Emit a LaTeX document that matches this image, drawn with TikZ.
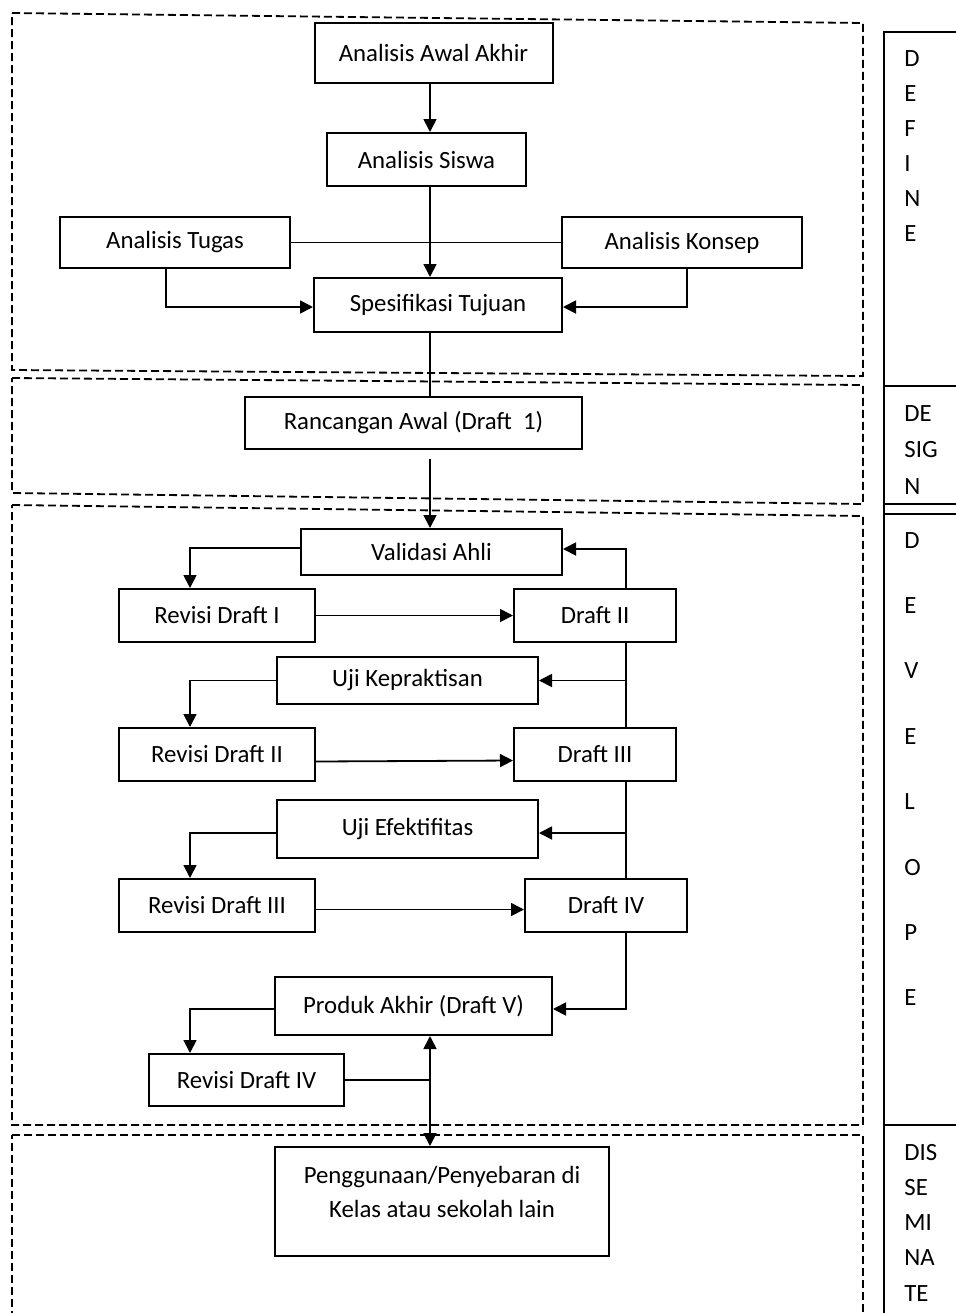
\documentclass[tikz,border=0pt]{standalone}
\usepackage{fontspec}
\setmainfont{Carlito}
\usetikzlibrary{arrows.meta,calc}
\tikzset{
  txt/.style={font=\fontsize{12.4pt}{17pt}\selectfont},
  box/.style={txt, draw, line width=1pt, inner sep=0pt},
  con/.style={line width=0.9pt},
  arr/.style={con, -{Triangle[length=6.5pt,width=6.5pt]}},
  dbl/.style={con, {Triangle[length=6.5pt,width=6.5pt]}-{Triangle[length=6.5pt,width=6.5pt]}},
  dashbox/.style={line width=0.9pt, dash pattern=on 4pt off 2pt},
  stagebox/.style={line width=1pt},
  stage/.style={txt, anchor=base west, inner sep=0pt},
}
\begin{document}
\begin{tikzpicture}[x=0.5pt,y=-0.5pt]
\useasboundingbox (0,0) rectangle (956,1313);

% phase frames (dashed)
\draw[dashbox] (12,13) -- (863,23) -- (863,376) -- (12,370) -- cycle;
\draw[dashbox] (12,378) -- (863,385) -- (863,504) -- (12,493) -- cycle;
\draw[dashbox] (12,505) -- (863,516) -- (863,1125) -- (12,1125) -- cycle;
\draw[dashbox] (12,1135) -- (863,1135) -- (863,1330) -- (12,1330) -- cycle;

% phase labels column
\draw[stagebox] (884,1330) -- (884,32) -- (970,32);
\draw[stagebox] (884,386) -- (970,386);
\draw[stagebox] (884,504) -- (970,504);
\draw[stagebox] (884,514) -- (970,514);
\draw[stagebox] (884,1125) -- (970,1125);
\foreach \t [count=\i] in {D,E,F,I,N,E} \node[stage] (def\i) at (904,{31+35*\i}) {\t};
\foreach \t [count=\i] in {DE,SIG,N} \node[stage] (des\i) at (904,{384.5+36.5*\i}) {\t};
\foreach \t [count=\i] in {D,E,V,E,L,O,P,E} \node[stage] (dev\i) at (904,{482.6+65.4*\i}) {\t};
\foreach \t [count=\i] in {DIS,SE,MI,NA,TE} \node[stage] (dis\i) at (904,{1124.7+35.3*\i}) {\t};

% nodes
\node[box, minimum width=119pt, minimum height=30pt] (aaa) at (433.5,53) {Analisis Awal Akhir};
\node[box, minimum width=99.5pt, minimum height=26.5pt] (as) at (426.5,159.5) {Analisis Siswa};
\node[box, minimum width=115pt, minimum height=25.5pt] (at) at (175,242.5) {Analisis Tugas};
\node[box, minimum width=120pt, minimum height=25.5pt] (ak) at (682,242.5) {Analisis Konsep};
\node[box, minimum width=124pt, minimum height=27pt] (st) at (438,305) {Spesifikasi Tujuan};
\node[box, minimum width=168.5pt, minimum height=26pt] (ra) at (413.5,423) {Rancangan Awal (Draft\ \ 1)};
\node[box, minimum width=130.5pt, minimum height=23pt] (va) at (431.5,552) {Validasi Ahli};
\node[box, minimum width=98pt, minimum height=26.5pt] (r1) at (217,615.5) {Revisi Draft I};
\node[box, minimum width=81pt, minimum height=26.5pt] (d2) at (595,615.5) {Draft II};
\node[box, minimum width=130.5pt, minimum height=23.5pt] (uk) at (407.5,680.5) {Uji Kepraktisan};
\node[box, minimum width=98pt, minimum height=26.5pt] (r2) at (217,754.5) {Revisi Draft II};
\node[box, minimum width=81pt, minimum height=26.5pt] (d3) at (595,754.5) {Draft III};
\node[box, minimum width=130.5pt, minimum height=29pt] (ue) at (407.5,829) {Uji Efektifitas};
\node[box, minimum width=98pt, minimum height=26.5pt] (r3) at (217,905.5) {Revisi Draft III};
\node[box, minimum width=81pt, minimum height=26.5pt] (d4) at (606,905.5) {Draft IV};
\node[box, minimum width=138.5pt, minimum height=29pt] (pa) at (413.5,1006) {Produk Akhir (Draft V)};
\node[box, minimum width=97.5pt, minimum height=26pt] (r4) at (246.5,1080) {Revisi Draft IV};
\node[box, minimum width=167pt, minimum height=54.5pt] (pg) at (442,1201.5) {};
\node[txt, align=center, inner sep=0pt] (pgt) at (442,1192) {Penggunaan/Penyebaran di\\Kelas atau sekolah lain};

% helper coordinates
\coordinate (cx) at (430,0);
\coordinate (lx) at (190,0);
\coordinate (rx) at (626,0);
\coordinate (tx) at (166,0);
\coordinate (kx) at (687,0);
\coordinate (rb) at (430,459);
\coordinate (uep) at ([yshift=-2pt]ue.east);
\coordinate (uew) at ([yshift=-2pt]ue.west);

% connectors
\draw[arr] (aaa.south -| cx) -- (as.north -| cx);
\draw[arr] (as.south -| cx) -- (st.north -| cx);
\draw[con] (at.east) -- (ak.west);
\draw[arr] (at.south -| tx) |- ([yshift=-1pt]st.west);
\draw[arr] (ak.south -| kx) |- ([yshift=-1pt]st.east);
\draw[con] (st.south -| cx) -- (ra.north -| cx);
\draw[arr] (rb) -- (va.north -| cx);
\draw[arr] ([yshift=2pt]va.west) -| (r1.north -| lx);
\draw[arr] (r1.east) -- (d2.west);
\draw[arr] (d2.north -| rx) |- ([yshift=1.5pt]va.east);
\draw[con] (d2.south -| rx) -- (d3.north -| rx);
\draw[arr] (uk.east -| rx) -- (uk.east);
\draw[arr] (uk.west) -| (r2.north -| lx);
\draw[arr] ([yshift=-3.5pt]r2.east) -- ([yshift=-3pt]d3.west);
\draw[con] (d3.south -| rx) -- (d4.north -| rx);
\draw[arr] (uep -| rx) -- (uep);
\draw[arr] (uew) -| (r3.north -| lx);
\draw[arr] ([yshift=-2pt]r3.east) -- ([yshift=-2pt]d4.west);
\draw[arr] (d4.south -| rx) |- ([yshift=-1.5pt]pa.east);
\draw[arr] ([yshift=-1.5pt]pa.west) -| (r4.north -| lx);
\draw[con] (r4.east) -- (r4.east -| cx);
\draw[dbl] (pa.south -| cx) -- (pg.north -| cx);
\end{tikzpicture}
\end{document}
